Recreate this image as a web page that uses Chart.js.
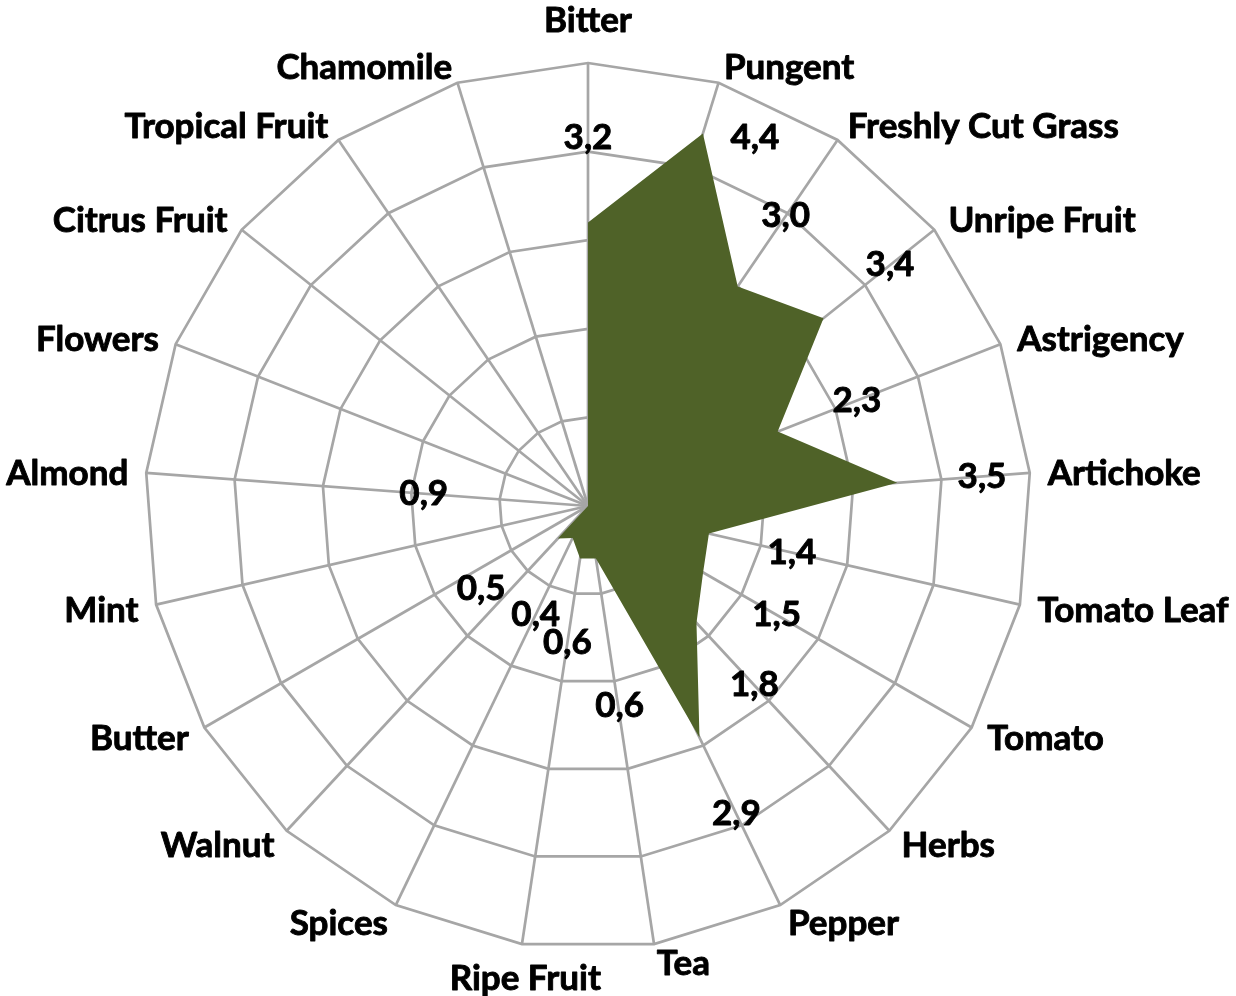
<!DOCTYPE html>
<html>
<head>
<meta charset="utf-8">
<script src="https://cdn.jsdelivr.net/npm/chart.js@4.4.1/dist/chart.umd.min.js"></script>
<style>
  html, body { margin: 0; padding: 0; background: #ffffff; }
  #wrap { width: 1236px; height: 996px; }
</style>
</head>
<body>
<div id="wrap"><canvas id="flavour" width="1236" height="996"></canvas></div>
<script>
// Sensory profile: one intensity score per descriptor (0–5 scale)
const categories = [
  'Bitter', 'Pungent', 'Freshly Cut Grass', 'Unripe Fruit', 'Astrigency',
  'Artichoke', 'Tomato Leaf', 'Tomato', 'Herbs', 'Pepper', 'Tea',
  'Ripe Fruit', 'Spices', 'Walnut', 'Butter', 'Mint', 'Almond',
  'Flowers', 'Citrus Fruit', 'Tropical Fruit', 'Chamomile'
];
const intensity = [
  3.2, 4.4, 3.0, 3.4, 2.3,
  3.5, 1.4, 1.5, 1.8, 2.9, 0.6,
  0.6, 0.4, 0.5, 0, 0, 0.9,
  0, 0, 0, 0
];
const scaleMin = 0;
const scaleMax = 5;
const scaleStep = 1;

const FONT = 'bold 35px Lato, "Open Sans", sans-serif';
const GRID = '#a6a6a6';

// Value labels that sit away from their default spot so they don't collide
const valueLabelShift = { 1: [27, 85], 10: [11, 63], 13: [-19, -12] };

const fmt = v => v.toFixed(1).replace('.', ',');

// Heavier text: fill plus a thin outline in the same colour
function boldText(ctx, txt, x, y) {
  ctx.fillText(txt, x, y);
  ctx.strokeText(txt, x, y);
}

const flavourLabels = {
  id: 'flavourLabels',
  afterDraw(chart) {
    const s = chart.scales.r;
    const ctx = chart.ctx;
    const n = categories.length;
    ctx.save();
    ctx.font = FONT;
    ctx.fillStyle = '#000000';
    ctx.strokeStyle = '#000000';
    ctx.lineWidth = 0.9;
    ctx.lineJoin = 'round';
    ctx.textBaseline = 'middle';

    // Descriptor names around the outer ring
    categories.forEach((name, i) => {
      const deg = i * 360 / n;
      const p = s.getPointPosition(i, s.drawingArea + 18);
      let x = p.x, y = p.y + 2, align;
      if (deg === 0) { align = 'center'; y = p.y - 24; }
      else if (deg > 180 && deg < 190) { align = 'center'; x = p.x + 6; y = p.y + 17; }
      else if (deg < 180) { align = 'left'; }
      else { align = 'right'; }
      ctx.textAlign = align;
      boldText(ctx, name, x, y);
    });

    // Score labels just outside each vertex
    ctx.textAlign = 'center';
    intensity.forEach((v, i) => {
      if (!v) return;
      const p = s.getPointPosition(i, s.getDistanceFromCenterForValue(v) + 85);
      const d = valueLabelShift[i] || [0, 0];
      boldText(ctx, fmt(v), p.x + d[0], p.y + d[1]);
    });
    ctx.restore();
  }
};

new Chart(document.getElementById('flavour'), {
  type: 'radar',
  data: {
    labels: categories,
    datasets: [{
      label: 'Intensity',
      data: intensity,
      backgroundColor: '#4f6228',
      borderWidth: 0,
      pointRadius: 0,
      pointHoverRadius: 0,
      fill: true
    }]
  },
  options: {
    responsive: false,
    animation: false,
    devicePixelRatio: 1,
    layout: { padding: { left: 145, right: 205, top: 63, bottom: 47 } },
    plugins: { legend: { display: false }, tooltip: { enabled: false } },
    elements: { line: { tension: 0 } },
    scales: {
      r: {
        min: scaleMin,
        max: scaleMax,
        ticks: { display: false, stepSize: scaleStep, z: 1 },
        grid: { color: GRID, lineWidth: 2.7, circular: false },
        angleLines: { color: GRID, lineWidth: 2.7 },
        pointLabels: { display: false }
      }
    }
  },
  plugins: [flavourLabels]
});
</script>
</body>
</html>
